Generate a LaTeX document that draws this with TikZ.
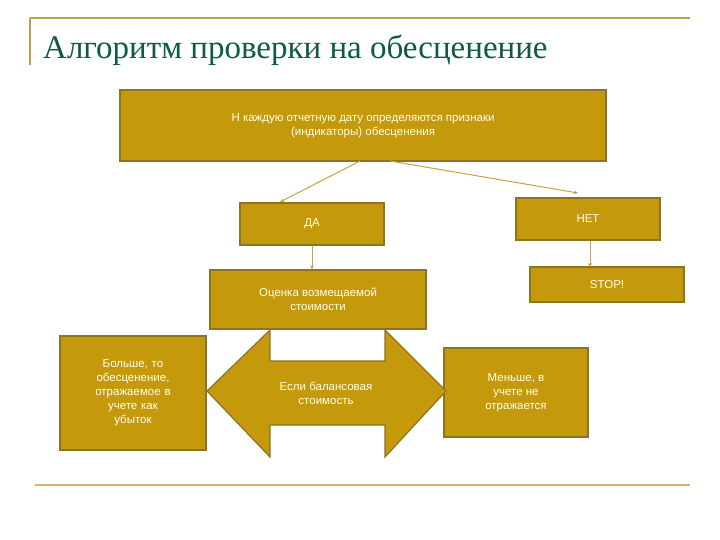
\documentclass[tikz,border=0pt]{standalone}
\usepackage{fontspec}
\setmainfont{Liberation Sans}
\newfontfamily\titlefont{Liberation Serif}
\usetikzlibrary{arrows.meta}
\definecolor{boxfill}{HTML}{C49A0C}
\definecolor{boxdraw}{HTML}{8C7423}
\definecolor{conn}{HTML}{C8A445}
\definecolor{rule}{HTML}{B8A24A}
\definecolor{titlegreen}{HTML}{0D5A45}
\tikzset{
  gbox/.style={draw=boxdraw, line width=1.2pt, fill=boxfill, text=white!92!yellow, align=center, font=\fontsize{11.5}{14}\selectfont, inner sep=2pt},
  connector/.style={draw=conn, line width=1pt, -{Stealth[length=4pt,width=4pt]}}
}
\begin{document}
\begin{tikzpicture}[x=1pt,y=-1pt]
\useasboundingbox[fill=white] (0,0) rectangle (720,540);
\draw[rule, line width=1.2pt] (30,18) -- (690,18);
\draw[rule, line width=1.2pt] (30,18) -- (30,65);
\draw[conn!80, line width=2pt] (35,485) -- (690,485);
\node[anchor=west, text=titlegreen, font=\titlefont\fontsize{33}{36}\selectfont, inner sep=0] (title) at (43,50) {Алгоритм проверки на обесценение};
\node[gbox, minimum width=486, minimum height=71] (top) at (363,125.5) {Н каждую отчетную дату определяются признаки\\(индикаторы) обесценения};
\node[gbox, minimum width=144, minimum height=42] (da) at (312,224) {ДА};
\node[gbox, minimum width=144, minimum height=42] (net) at (588,219) {НЕТ};
\node[gbox, minimum width=216, minimum height=59] (ocenka) at (318,299.5) {Оценка возмещаемой\\стоимости};
\node[gbox, minimum width=154, minimum height=35] (stop) at (607,284.5) {STOP!};
\node[gbox, minimum width=146, minimum height=114, text width=136] (left) at (133,393) {Больше, то\\обесценение,\\отражаемое в\\учете как\\убыток};
\node[gbox, minimum width=144, minimum height=89] (right) at (516,392.5) {Меньше, в\\учете не\\отражается};
\draw[draw=boxdraw, line width=1.2pt, fill=boxfill] (207,391) -- (270,330) -- (270,361) -- (385,361) -- (385,330) -- (446,391) -- (385,457) -- (385,425) -- (270,425) -- (270,457) -- cycle;
\node[text=white!92!yellow, align=center, font=\fontsize{11.5}{14}\selectfont] (arrowtext) at (326,393) {Если балансовая\\стоимость};
\coordinate (c1) at (360,161);
\coordinate (c2) at (390,161);
\draw[connector] (c1) -- (280,202);
\draw[connector] (c2) -- (578,193);
\draw[connector] (da.south) -- (ocenka.north -| da.south);
\draw[connector] (net.south -| 590,0) -- (590,267);
\end{tikzpicture}
\end{document}
